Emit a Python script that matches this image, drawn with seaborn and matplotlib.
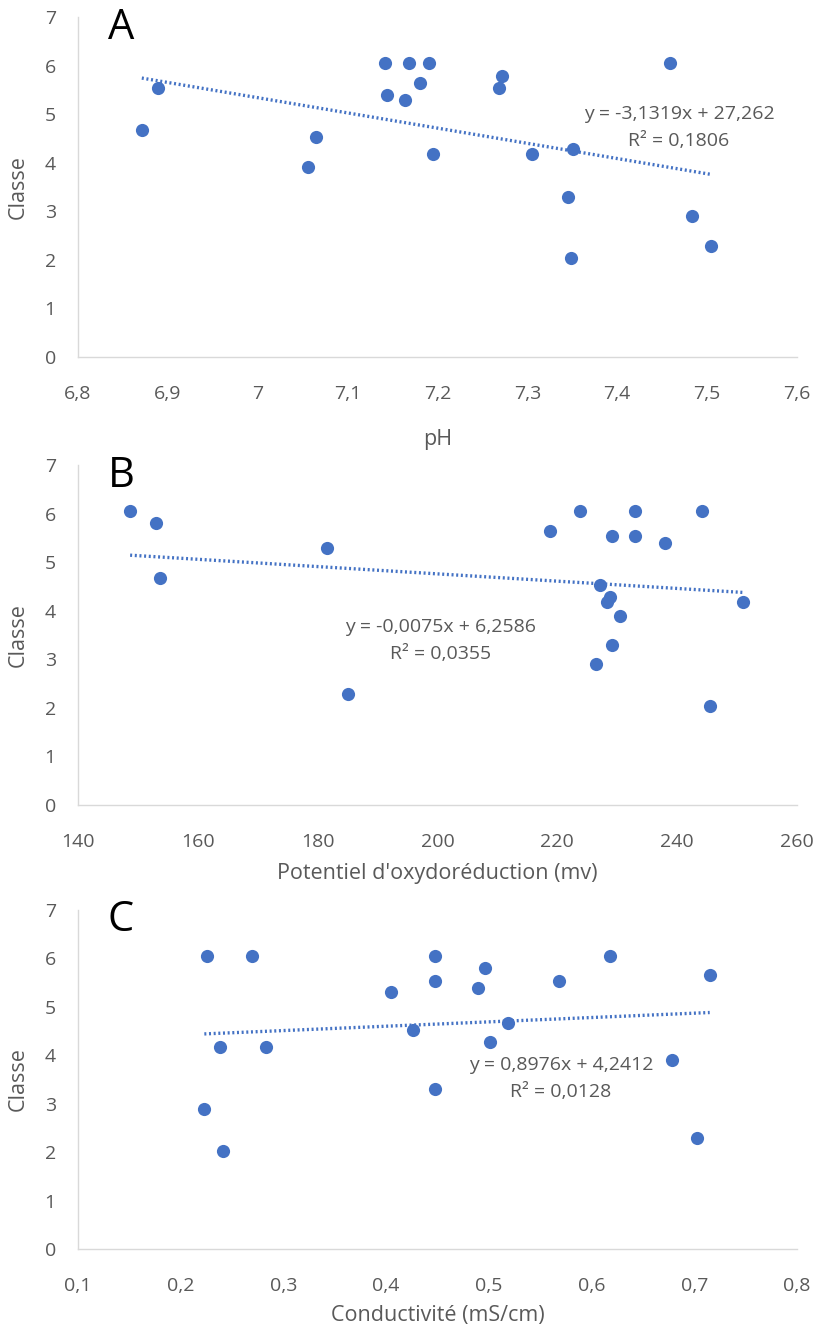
import numpy as np
import matplotlib
matplotlib.use("Agg")
import matplotlib.pyplot as plt
import seaborn as sns

# Classe (meme valeurs pour les 3 graphes, ordre propre a chaque panneau)
ph = [6.871, 6.889, 7.056, 7.065, 7.142, 7.144, 7.164, 7.168, 7.181, 7.191,
      7.195, 7.268, 7.272, 7.305, 7.345, 7.351, 7.349, 7.459, 7.483, 7.504]
classe_ph = [4.67, 5.53, 3.92, 4.53, 6.05, 5.39, 5.29, 6.05, 5.65, 6.05,
             4.17, 5.54, 5.79, 4.17, 3.30, 4.28, 2.03, 6.05, 2.90, 2.29]

redox = [148.7, 153.1, 153.7, 181.5, 185.0, 218.8, 223.8, 227.1, 226.5, 228.3,
         228.8, 229.2, 229.2, 230.4, 233.0, 233.0, 238.0, 244.1, 245.5, 251.0]
classe_redox = [6.05, 5.80, 4.67, 5.29, 2.29, 5.65, 6.05, 4.53, 2.90, 4.17,
                4.28, 5.54, 3.30, 3.90, 6.05, 5.54, 5.39, 6.05, 2.03, 4.17]

cond = [0.226, 0.269, 0.223, 0.238, 0.241, 0.283, 0.405, 0.426, 0.448, 0.448,
        0.448, 0.489, 0.496, 0.501, 0.519, 0.568, 0.618, 0.678, 0.703, 0.715]
classe_cond = [6.05, 6.05, 2.90, 4.17, 2.03, 4.17, 5.30, 4.53, 6.05, 5.54,
               3.30, 5.39, 5.80, 4.28, 4.67, 5.54, 6.05, 3.91, 2.29, 5.65]

# courbes de tendance (Excel)
slopes = [-3.1319, -0.0075, 0.8976]
intercepts = [27.262, 6.2586, 4.2412]
eq_labels = ["y = -3,1319x + 27,262", "y = -0,0075x + 6,2586", "y = 0,8976x + 4,2412"]
r2_labels = ["R² = 0,1806", "R² = 0,0355", "R² = 0,0128"]

panel_letters = ["A", "B", "C"]
x_labels = ["pH", "Potentiel d'oxydoréduction (mv)", "Conductivité (mS/cm)"]
x_ticks = [[6.8, 6.9, 7.0, 7.1, 7.2, 7.3, 7.4, 7.5, 7.6],
           [140, 160, 180, 200, 220, 240, 260],
           [0.1, 0.2, 0.3, 0.4, 0.5, 0.6, 0.7, 0.8]]
x_ticklabels = [["6,8", "6,9", "7", "7,1", "7,2", "7,3", "7,4", "7,5", "7,6"],
                ["140", "160", "180", "200", "220", "240", "260"],
                ["0,1", "0,2", "0,3", "0,4", "0,5", "0,6", "0,7", "0,8"]]
y_ticks = [0, 1, 2, 3, 4, 5, 6, 7]

sns.set_theme(style="white")
plt.rcParams['font.family'] = ['Open Sans', 'DejaVu Sans']

blue = "#4472C4"
grey = "#595959"

fig = plt.figure(figsize=(8.15, 13.33), dpi=100)
W, H = 815, 1333
# (top, bottom) of each plot area in pixels
boxes = [(17, 357), (465, 805), (910, 1249)]
xlab_y = [440, 873, 1316]
eq_pos = [(679, 114), (441, 627), (561, 1065)]
letter_pos = [(121, 28), (121, 476), (121, 920)]

data = [(ph, classe_ph), (redox, classe_redox), (cond, classe_cond)]

for i, (xs, ys) in enumerate(data):
    top, bot = boxes[i]
    ax = fig.add_axes([78 / W, 1 - bot / H, 719 / W, (bot - top) / H])
    sns.scatterplot(x=xs, y=ys, ax=ax, color=blue, s=90, edgecolor=blue,
                    linewidth=0, zorder=3)
    xfit = np.array([min(xs), max(xs)])
    yfit = slopes[i] * xfit + intercepts[i]
    sns.lineplot(x=xfit, y=yfit, ax=ax, color=blue, linestyle=(0, (0.6, 0.8)),
                 linewidth=2.4, zorder=2)

    ax.set_xlim(x_ticks[i][0], x_ticks[i][-1])
    ax.set_ylim(0, 7)
    ax.set_xticks(x_ticks[i])
    ax.set_xticklabels(x_ticklabels[i])
    ax.set_yticks(y_ticks)
    ax.tick_params(axis='both', length=0, labelsize=14, labelcolor=grey)
    ax.tick_params(axis='x', pad=20)
    ax.tick_params(axis='y', pad=20)
    for lab in ax.get_yticklabels():
        lab.set_horizontalalignment('center')
    for s in ["top", "right"]:
        ax.spines[s].set_visible(False)
    for s in ["left", "bottom"]:
        ax.spines[s].set_color("#D9D9D9")
        ax.spines[s].set_linewidth(1.0)

    ax.set_ylabel("Classe", fontsize=15.5, color=grey)
    ax.yaxis.set_label_coords(-(78 - 29) / 719, 0.5)
    ax.set_xlabel(x_labels[i], fontsize=15.5, color=grey)
    ax.xaxis.label.set_va('center')
    ax.xaxis.set_label_coords(0.5, -(xlab_y[i] - bot) / (bot - top))

    ex, ey = eq_pos[i]
    fig.text(ex / W, 1 - ey / H, eq_labels[i], ha='center', va='center',
             fontsize=14, color=grey)
    fig.text(ex / W, 1 - (ey + 27) / H, r2_labels[i], ha='center', va='center',
             fontsize=14, color=grey)
    lx, ly = letter_pos[i]
    fig.text(lx / W, 1 - ly / H, panel_letters[i], ha='center', va='center',
             fontsize=30, color='black')

fig.savefig("out.png", dpi=100)
